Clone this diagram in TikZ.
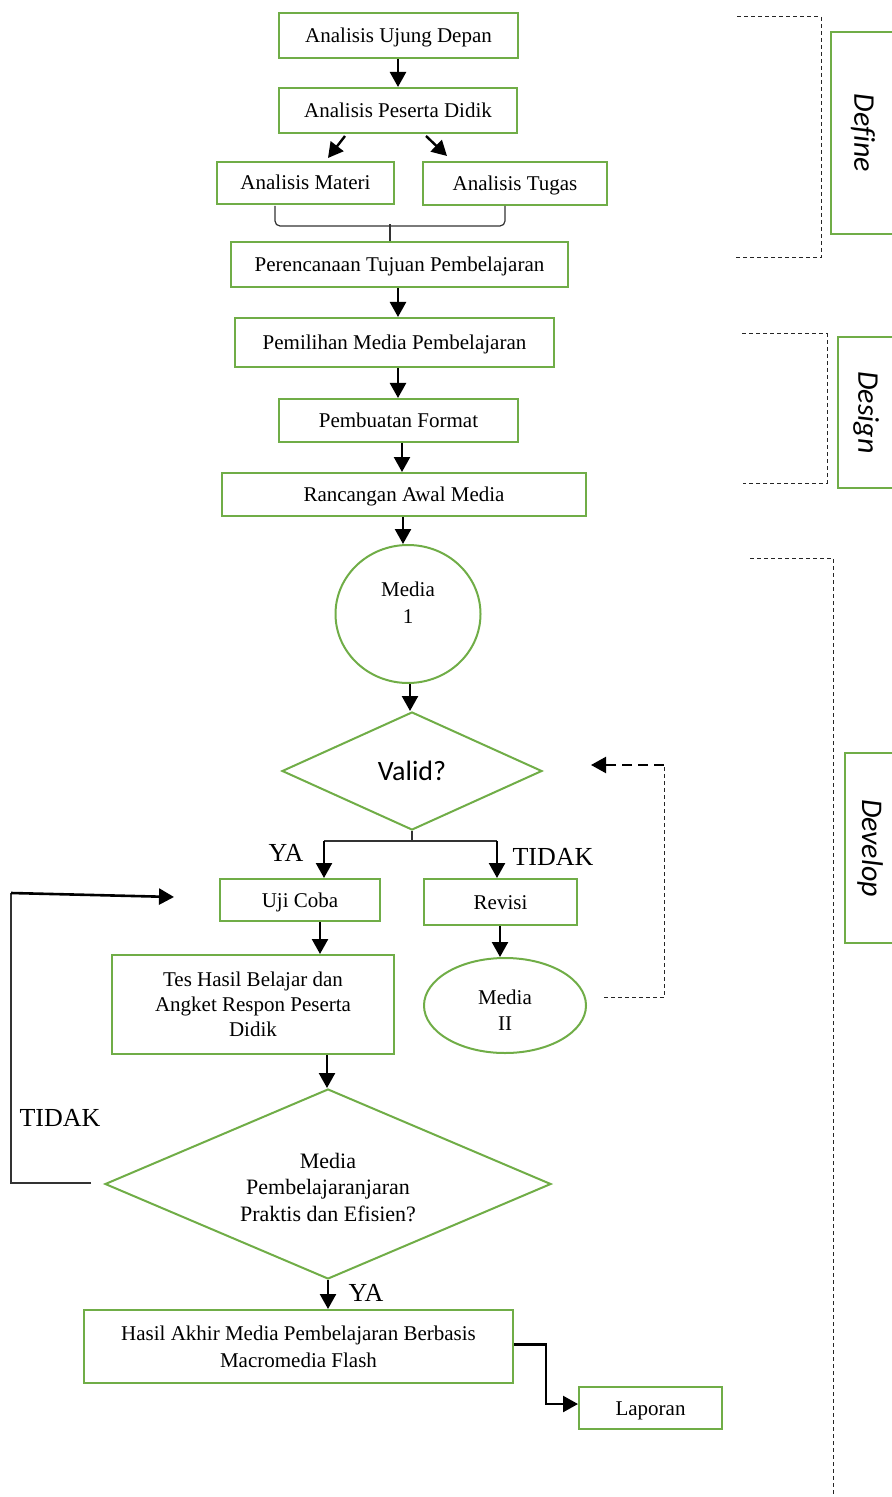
\documentclass[tikz,border=0pt]{standalone}
\usepackage{fontspec}
\setmainfont{Liberation Serif}
\newfontfamily\calibri[Ligatures=NoCommon]{Carlito}
\usetikzlibrary{shapes.geometric,arrows.meta,calc}
\definecolor{grn}{HTML}{70AD47}
\begin{document}
\begin{tikzpicture}[x=0.5pt,y=-0.5pt,
  box/.style={draw=grn,line width=1pt,inner sep=1pt,align=center,font=\fontsize{10.5}{13}\selectfont},
  one/.style={box,text height=7.5pt,text depth=0.5pt},
  ell/.style={box,ellipse},
  dia/.style={box,diamond,inner sep=0pt},
  arr/.style={line width=1.2pt,-{Triangle[width=8pt,length=7.5pt]}},
  thinln/.style={line width=0.6pt,draw=black!80},
  dsh/.style={line width=0.5pt,draw=black!85,dash pattern=on 2pt off 1.5pt},
  phase/.style={draw=grn,line width=1pt,rotate=-90,inner sep=0pt,font=\calibri\itshape\fontsize{15}{18}\selectfont},
  lbl/.style={font=\fontsize{13}{15}\selectfont}]
\useasboundingbox (0,0) rectangle (892,1497);
\clip (0,0) rectangle (892,1497);

% column helpers
\foreach \c in {320,324,327,328,390,398,402,403,410,497,500}{\coordinate (c\c) at (\c,0);}

% nodes
\node[one,minimum width=119.5pt,minimum height=22.5pt] (a1) at (398.5,35.5) {Analisis Ujung Depan};
\node[one,minimum width=119pt,minimum height=22.5pt] (a2) at (398,110.5) {Analisis Peserta Didik};
\node[one,minimum width=88.5pt,minimum height=21pt] (a3) at (305.5,183) {Analisis Materi};
\node[one,minimum width=92pt,minimum height=21.5pt,text depth=-2pt] (a4) at (515,183.5) {Analisis Tugas};
\node[one,minimum width=168.5pt,minimum height=22.5pt] (a5) at (399.5,264.5) {Perencanaan Tujuan Pembelajaran};
\node[one,minimum width=159.5pt,minimum height=24.5pt] (a6) at (394.5,342.5) {Pemilihan Media Pembelajaran};
\node[one,minimum width=119.5pt,minimum height=21.5pt] (a7) at (398.5,420.5) {Pembuatan Format};
\node[one,minimum width=182pt,minimum height=21.5pt] (a8) at (404,494.5) {Rancangan Awal Media};
\node[ell,minimum width=72.5pt,minimum height=69pt,inner sep=0pt,font=\fontsize{10.5}{13.5}\selectfont,text height=22pt,text depth=13pt] (m1) at (408,614) {Media\\1};
\node[dia,minimum width=130pt,minimum height=59pt,aspect=2.2,font=\calibri\fontsize{14}{16}\selectfont] (valid) at (412,771) {Valid?};
\node[one,minimum width=80pt,minimum height=21pt,text depth=-1pt] (uji) at (300,900) {Uji Coba};
\node[one,minimum width=76.5pt,minimum height=23pt] (revisi) at (500.5,902) {Revisi};
\node[ell,minimum width=81pt,minimum height=47.5pt,inner sep=0pt,text height=24.5pt,text depth=0pt] (m2) at (505,1005.5) {Media\\II};
\node[box,minimum width=141pt,minimum height=49.5pt,font=\fontsize{10.5}{12.5}\selectfont] (tes) at (253,1004.5) {Tes Hasil Belajar dan\\Angket Respon Peserta\\Didik};
\node[dia,minimum width=223pt,minimum height=95pt,aspect=2.35,font=\fontsize{11}{13.25}\selectfont,text height=37pt,text depth=0pt] (prak) at (328,1184) {Media\\Pembelajaranjaran\\Praktis dan Efisien?};
\node[box,minimum width=214.5pt,minimum height=36.5pt,font=\fontsize{10.5}{13.5}\selectfont] (hasil) at (298.5,1346.5) {Hasil Akhir Media Pembelajaran Berbasis\\Macromedia Flash};
\node[one,minimum width=71.5pt,minimum height=21pt,text depth=-2pt] (lap) at (650.5,1408) {Laporan};

% labels
\node[lbl] (ya1) at (286,853) {YA};
\node[lbl] (t1) at (553,857) {TIDAK};
\node[lbl] (t2) at (60,1118) {TIDAK};
\node[lbl] (ya2) at (366,1293) {YA};

% phase boxes
\node[phase,minimum width=101pt,minimum height=32pt] (pdef) at (863,133) {Define};
\node[phase,minimum width=75.5pt,minimum height=28pt] (pdes) at (866,412.5) {Design};
\node[phase,minimum width=95pt,minimum height=25pt] (pdev) at (870,848) {Develop};

% phase brackets
\draw[dsh] (737,17) -| (821,258) -- (734,258);
\draw[dsh] (742,334) -| (827,483) -- (743,483);
\draw[dsh] (750,558) -| (833,1497);

% connectors
\draw[arr] (a1.south -| c398) -- (a2.north -| c398);
\draw[arr] ($(a2.south)+(-53,2)$) -- ($(a3.north)+(22.5,-3)$);
\draw[arr] ($(a2.south)+(28,2)$) -- ($(a4.north)+(-68,-5)$);
\draw[thinln,rounded corners=2.5pt] ($(a3.south)+(-30.5,1)$) -- ($(a3.south)+(-30.5,21)$) -- ($(a4.south)+(-10,20)$) -- ($(a4.south)+(-10,0)$);
\draw[thinln] (a5.north -| c390) -- ++(0,-17);
\draw[arr] (a5.south -| c398) -- (a6.north -| c398);
\draw[arr] (a6.south -| c398) -- (a7.north -| c398);
\draw[arr] (a7.south -| c402) -- (a8.north -| c402);
\draw[arr] (a8.south -| c403) -- (m1.north -| c403);
\draw[arr] (m1.south -| c410) -- (valid.north -| c410);

\draw[thinln] (valid.south) -- ++(0,10) coordinate (sp);
\draw[thinln] (sp -| c324) -- (sp -| c497);
\draw[arr] (sp -| c324) -- (uji.north -| c324);
\draw[arr] (sp -| c497) -- (revisi.north -| c497);

\draw[arr] (revisi.south -| c500) -- (m2.north -| c500);
\coordinate (fb1) at ($(m2.east)+(17,-8)$);
\coordinate (fb4) at ($(valid.east)+(48,-6)$);
\coordinate (fb3) at ($(fb4)+(73,0)$);
\draw[dsh] (fb1) -| (fb3);
\draw[line width=1.1pt,dash pattern=on 5pt off 3pt,-{Triangle[width=8pt,length=7.5pt]}] (fb3) -- (fb4);

\draw[arr] (uji.south -| c320) -- (tes.north -| c320);
\draw[arr] (tes.south -| c327) -- (prak.north -| c327);

\coordinate (lp) at ($(uji.west)+(-45,-3)$);
\coordinate (lc1) at ($(prak.west)+(-13,-1)$);
\coordinate (lc3) at ($(lp)+(-163,-4)$);
\draw[thinln] (lc1) -| (lc3);
\draw[arr,line width=1.3pt] (lc3) -- (lp);

\draw[arr] (prak.south -| c328) -- (hasil.north -| c328);
\draw[arr] ($(hasil.east)+(0,-2)$) -- ++(32,0) |- ($(lap.west)+(0,-4)$);
\end{tikzpicture}
\end{document}
